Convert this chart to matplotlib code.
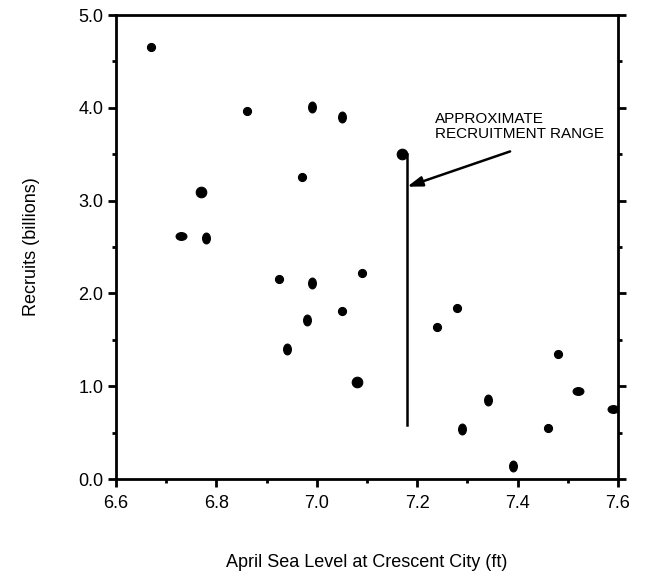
import matplotlib.pyplot as plt
import numpy as np
from matplotlib.path import Path
from matplotlib.ticker import MultipleLocator, FormatStrFormatter

plt.rcParams['font.family'] = ['Liberation Sans', 'DejaVu Sans']

# April sea level (ft) vs recruits (billions)
sea_level = [6.67, 6.86, 6.99, 7.05, 7.17, 6.97, 6.77, 6.73, 6.78, 6.925,
             6.99, 7.09, 7.05, 6.98, 6.94, 7.08, 7.24, 7.28, 7.48, 7.34,
             7.52, 7.59, 7.29, 7.46, 7.39]
recruits = [4.66, 3.97, 4.01, 3.90, 3.50, 3.25, 3.09, 2.62, 2.60, 2.16,
            2.11, 2.22, 1.81, 1.71, 1.40, 1.05, 1.64, 1.84, 1.35, 0.85,
            0.95, 0.75, 0.54, 0.55, 0.14]
# dot shape: o = small dot, L = large dot, v = tall ellipse, h = wide ellipse
shape = ['o', 'o', 'v', 'v', 'L', 'o', 'L', 'h', 'v', 'o',
         'v', 'o', 'o', 'v', 'v', 'L', 'o', 'o', 'o', 'v',
         'h', 'h', 'v', 'o', 'v']

# vertical bar showing the recruitment range
range_x = 7.18
range_low = 0.58
range_high = 3.50

# arrow from label to bar
arrow_tip = (7.18, 3.15)
arrow_tail = (7.385, 3.53)
label_pos = (7.235, 3.96)

circ = Path.unit_circle()
tall = Path(circ.vertices * [0.72, 1.0], circ.codes)
wide = Path(circ.vertices * [1.0, 0.72], circ.codes)
markers = {'o': ('o', 5.8), 'L': ('o', 7.6), 'v': (tall, 7.8), 'h': (wide, 7.8)}

fig = plt.figure(figsize=(6.46, 5.77), dpi=100)
ax = fig.add_axes([0.1796, 0.1698, 0.7771, 0.8042])

x = np.array(sea_level)
y = np.array(recruits)
s = np.array(shape)
for key in markers:
    m, ms = markers[key]
    sel = s == key
    ax.plot(x[sel], y[sel], ls='none', marker=m, ms=ms, mfc='black',
            mec='black', mew=0.8)

ax.plot([range_x, range_x], [range_low, range_high], color='black', lw=1.8)

ax.annotate('', xy=arrow_tip, xytext=arrow_tail,
            arrowprops=dict(arrowstyle='-|>,head_length=0.9,head_width=0.3',
                            color='black', lw=1.8, shrinkA=0, shrinkB=0))
ax.text(label_pos[0], label_pos[1], 'APPROXIMATE\nRECRUITMENT RANGE',
        fontsize=11, va='top', ha='left', linespacing=1.15)

ax.set_xlim(6.6, 7.6)
ax.set_ylim(0, 5)
ax.xaxis.set_major_locator(MultipleLocator(0.2))
ax.xaxis.set_minor_locator(MultipleLocator(0.1))
ax.yaxis.set_major_locator(MultipleLocator(1.0))
ax.yaxis.set_minor_locator(MultipleLocator(0.5))
ax.xaxis.set_major_formatter(FormatStrFormatter('%.1f'))
ax.yaxis.set_major_formatter(FormatStrFormatter('%.1f'))

for sp in ax.spines.values():
    sp.set_linewidth(2.0)
ax.tick_params(which='both', direction='out', width=2.0, labelsize=13,
               top=False, right=True, labelright=False)
ax.tick_params(which='major', length=5.5)
ax.tick_params(which='minor', length=3)
ax.tick_params(axis='x', which='major', pad=6)

ax.set_xlabel('April Sea Level at Crescent City (ft)', fontsize=13, labelpad=30)
ax.set_ylabel('Recruits (billions)', fontsize=13, labelpad=28)

fig.savefig('out.png', dpi=100)
